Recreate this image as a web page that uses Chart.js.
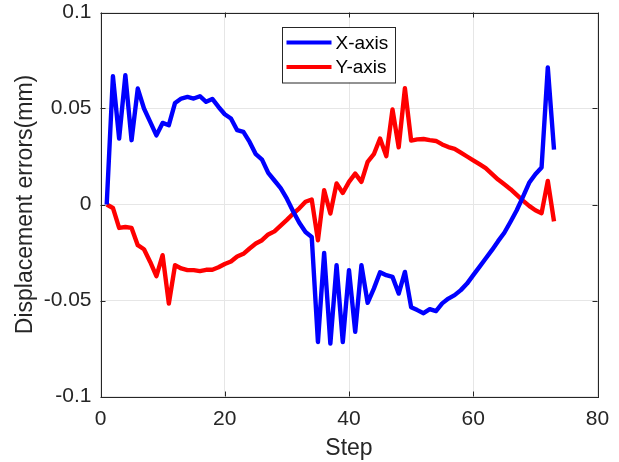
<!DOCTYPE html>
<html>
<head>
<meta charset="utf-8">
<script src="https://cdn.jsdelivr.net/npm/chart.js@4/dist/chart.umd.min.js"></script>
<style>
  html, body { margin: 0; padding: 0; background: #fff; }
  #wrap { width: 619px; height: 462px; }
</style>
</head>
<body>
<div id="wrap"><canvas id="err-chart" width="619" height="462"></canvas></div>
<script>
// step numbers and displacement errors (mm) for each axis
var steps = [1, 2, 3, 4, 5, 6, 7, 8, 9, 10, 11, 12, 13, 14, 15, 16, 17, 18, 19, 20,
  21, 22, 23, 24, 25, 26, 27, 28, 29, 30, 31, 32, 33, 34, 35, 36, 37, 38, 39, 40,
  41, 42, 43, 44, 45, 46, 47, 48, 49, 50, 51, 52, 53, 54, 55, 56, 57, 58, 59, 60,
  61, 62, 63, 64, 65, 66, 67, 68, 69, 70, 71, 72, 73];

var err_x = [0, 0.0668, 0.0344, 0.0673, 0.0335, 0.0604, 0.050, 0.043, 0.036, 0.0425,
  0.0413, 0.0529, 0.0552, 0.056, 0.0552, 0.0564, 0.0535, 0.055, 0.0508, 0.047,
  0.0448, 0.0387, 0.0378, 0.0326, 0.0262, 0.0234, 0.0165, 0.0125, 0.0085, 0.003,
  -0.0035, -0.0095, -0.0143, -0.0169, -0.0716, -0.0252, -0.0724, -0.0316, -0.0716, -0.0342,
  -0.0663, -0.0316, -0.0512, -0.0438, -0.0353, -0.0368, -0.0377, -0.0464, -0.0351, -0.0535,
  -0.055, -0.0566, -0.0545, -0.0555, -0.0515, -0.049, -0.0472, -0.0446, -0.0412, -0.0368,
  -0.0325, -0.0281, -0.0238, -0.0191, -0.0147, -0.009, -0.003, 0.004, 0.0113, 0.0158,
  0.0193, 0.0714, 0.0286];

var err_y = [0, -0.0018, -0.0122, -0.0117, -0.0122, -0.0212, -0.0233, -0.0299, -0.0373, -0.0264,
  -0.0516, -0.0316, -0.0333, -0.0342, -0.0342, -0.0347, -0.034, -0.034, -0.0327, -0.031,
  -0.0297, -0.0271, -0.0257, -0.0229, -0.0203, -0.0186, -0.0156, -0.014, -0.011, -0.008,
  -0.0048, -0.002, 0.0014, 0.0026, -0.0186, 0.0074, -0.0047, 0.011, 0.006, 0.0118,
  0.0161, 0.0118, 0.0222, 0.0262, 0.0344, 0.0252, 0.0495, 0.0298, 0.0606, 0.0333,
  0.0339, 0.0341, 0.0335, 0.0331, 0.0313, 0.0299, 0.029, 0.027, 0.025, 0.023,
  0.021, 0.019, 0.016, 0.013, 0.0105, 0.008, 0.005, 0.002, -0.0007, -0.003,
  -0.0045, 0.0123, -0.0088];

var series_names = ['X-axis', 'Y-axis'];
var series_colors = ['#0000ff', '#ff0000'];

var FONT = "'Liberation Sans', Arial, sans-serif";
var INK = '#262626';

function toPoints(vals) {
  return steps.map(function (s, i) { return {x: s, y: vals[i]}; });
}

// box round the plot with inward ticks on all four sides
var boxAxes = {
  id: 'boxAxes',
  afterDatasetsDraw: function (chart) {
    var ctx = chart.ctx, a = chart.chartArea;
    var sx = chart.scales.x, sy = chart.scales.y;
    var len = 5;
    ctx.save();
    ctx.strokeStyle = INK;
    ctx.lineWidth = 1;
    ctx.beginPath();
    sx.ticks.forEach(function (t) {
      var px = Math.round(sx.getPixelForValue(t.value)) + 0.5;
      ctx.moveTo(px, a.bottom); ctx.lineTo(px, a.bottom - len);
      ctx.moveTo(px, a.top); ctx.lineTo(px, a.top + len);
    });
    sy.ticks.forEach(function (t) {
      var py = Math.round(sy.getPixelForValue(t.value)) + 0.5;
      ctx.moveTo(a.left, py); ctx.lineTo(a.left + len, py);
      ctx.moveTo(a.right, py); ctx.lineTo(a.right - len, py);
    });
    ctx.stroke();
    ctx.strokeRect(Math.round(a.left) + 0.5, Math.round(a.top) + 0.5,
      Math.round(a.right - a.left), Math.round(a.bottom - a.top));
    ctx.restore();
  }
};

// legend box inside the plot, near the top
var boxLegend = {
  id: 'boxLegend',
  afterDraw: function (chart) {
    var ctx = chart.ctx, a = chart.chartArea;
    var x0 = a.left + 181, y0 = a.top + 14.5, w = 113, h = 55.5;
    ctx.save();
    ctx.fillStyle = '#fff';
    ctx.fillRect(x0, y0, w, h);
    ctx.strokeStyle = INK;
    ctx.lineWidth = 1;
    ctx.strokeRect(Math.round(x0) + 0.5, Math.round(y0) + 0.5, w, h);
    chart.data.datasets.forEach(function (ds, i) {
      var yy = y0 + 15.5 + i * 24.6;
      ctx.strokeStyle = ds.borderColor;
      ctx.lineWidth = 4;
      ctx.beginPath();
      ctx.moveTo(x0 + 5, yy);
      ctx.lineTo(x0 + 50, yy);
      ctx.stroke();
      ctx.fillStyle = '#000';
      ctx.font = '19px ' + FONT;
      ctx.textBaseline = 'middle';
      ctx.fillText(ds.label, x0 + 54, yy + 1);
    });
    ctx.restore();
  }
};

// fixed axis sizes, no extra room for overhanging tick labels
function fitX(scale) {
  scale.height = 65.5;
  scale.paddingLeft = 0; scale.paddingRight = 0;
}
function fitY(scale) {
  scale.width = 100.5;
  scale.paddingTop = 0; scale.paddingBottom = 0;
}

new Chart(document.getElementById('err-chart'), {
  type: 'line',
  data: {
    datasets: [
      {label: series_names[0], data: toPoints(err_x), borderColor: series_colors[0]},
      {label: series_names[1], data: toPoints(err_y), borderColor: series_colors[1]}
    ]
  },
  options: {
    responsive: false,
    animation: false,
    devicePixelRatio: 1,
    layout: {padding: {left: 0, right: 21.5, top: 12.5, bottom: 0}},
    elements: {
      point: {radius: 0},
      line: {borderWidth: 4.4, tension: 0, borderJoinStyle: 'round', fill: false}
    },
    plugins: {legend: {display: false}, tooltip: {enabled: false}},
    scales: {
      x: {
        type: 'linear', min: 0, max: 80,
        afterFit: fitX,
        ticks: {stepSize: 20, padding: 10, color: INK, font: {family: FONT, size: 21}},
        grid: {color: '#e6e6e6', drawTicks: false},
        border: {display: false},
        title: {display: true, text: 'Step', color: INK,
          font: {family: FONT, size: 23}, padding: {top: 0, bottom: 0}}
      },
      y: {
        type: 'linear', min: -0.1, max: 0.1,
        afterFit: fitY,
        ticks: {stepSize: 0.05, padding: 9, color: INK, font: {family: FONT, size: 21},
          callback: function (v) { return String(Number(v.toFixed(2))); }},
        grid: {color: '#e6e6e6', drawTicks: false},
        border: {display: false},
        title: {display: true, text: 'Displacement errors(mm)', color: INK,
          font: {family: FONT, size: 23}, padding: {top: 12, bottom: 0}}
      }
    }
  },
  plugins: [boxAxes, boxLegend]
});
</script>
</body>
</html>
